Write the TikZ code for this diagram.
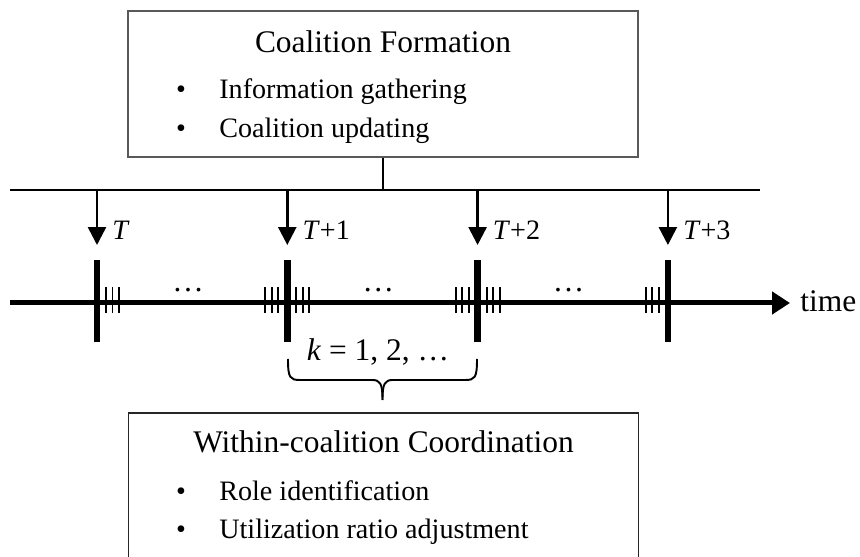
\documentclass[tikz,border=0pt]{standalone}
\usepackage{fontspec}
\setmainfont{Liberation Serif}
\usetikzlibrary{arrows.meta}
\tikzset{
  ttl/.style={font=\fontsize{17.9}{21}\selectfont,anchor=base,inner sep=0pt},
  itm/.style={font=\fontsize{16}{19}\selectfont,anchor=base west,inner sep=0pt},
  bul/.style={font=\fontsize{16}{19}\selectfont,anchor=base,inner sep=0pt},
  cbox/.style={draw=black!65,line width=0.75pt,minimum width=10.2cm,minimum height=2.92cm,inner sep=0pt},
  down/.style={line width=1.5pt,-{Triangle[length=0.36cm,width=0.36cm]}},
  bigtick/.style={line width=0.13cm},
  smalltick/.style={line width=1.1pt},
  brc/.style={line width=1.1pt}
}
\begin{document}
\begin{tikzpicture}[x=0.02cm,y=-0.02cm]
\useasboundingbox (0,0) rectangle (860,557);

\node [cbox] (form) at (383,84) {};
\node [ttl] (formttl) at (383,53) {Coalition Formation};
\node [bul] (fb1) at (181,99) {•};
\node [itm] (fi1) at (219,99) {Information gathering};
\node [bul] (fb2) at (181,138) {•};
\node [itm] (fi2) at (219,138) {Coalition updating};

\node [cbox,draw=black!85] (coord) at (383.5,486) {};
\node [ttl] (coordttl) at (383.5,453) {Within-coalition Coordination};
\node [bul] (cb1) at (181,501) {•};
\node [itm] (ci1) at (219,501) {Role identification};
\node [bul] (cb2) at (181,539) {•};
\node [itm] (ci2) at (219,539) {Utilization ratio adjustment};

\coordinate (hl) at (10,190);
\coordinate (hr) at (760,190);
\draw [line width=1.1pt] (hl) -- (hr);
\draw [line width=1.1pt] (form.south) -- (form.south |- hl);

\coordinate (tl) at (10,303);
\coordinate (tr) at (790,303);
\node [ttl,anchor=base west] (time) at (800,312) {time};
\draw [line width=0.1cm,-{Triangle[length=0.36cm,width=0.44cm]}] (tl) -- (tr);

\foreach \i/\lab in {0/{},1/{+1},2/{+2},3/{+3}} {
  \coordinate (a\i) at (97+190.3*\i,190);
  \coordinate (b\i) at (97+190.3*\i,245);
  \draw [down] (a\i) -- (b\i);
  \node [itm] (lab\i) at (112+190.3*\i,240) {\textit{T}\lab};
  \coordinate (tk\i) at (97+190.3*\i,303);
  \draw [bigtick] ([yshift=0.86cm]tk\i) -- ([yshift=-0.78cm]tk\i);
}
\foreach \d in {9,15.5,22} {
  \foreach \i in {0,1,2} \draw [smalltick] ([xshift=\d*0.02cm,yshift=0.32cm]tk\i) -- ([xshift=\d*0.02cm,yshift=-0.2cm]tk\i);
  \foreach \i in {1,2,3} \draw [smalltick] ([xshift=-\d*0.02cm,yshift=0.32cm]tk\i) -- ([xshift=-\d*0.02cm,yshift=-0.2cm]tk\i);
}
\foreach \i in {0,1,2}
  \node [ttl] (dots\i) at (188+190.3*\i,292) {…};

\coordinate (bl) at (288,359);
\coordinate (br) at (477,359);
\coordinate (bt) at (382.5,400);
\draw [brc] (bl) .. controls (288,378) and (290,380) .. (300,380) -- (372,380) .. controls (380,380) and (382.5,383) .. (bt);
\draw [brc] (br) .. controls (477,378) and (475,380) .. (465,380) -- (393,380) .. controls (385,380) and (382.5,383) .. (bt);
\node [ttl] (kval) at (378,361) {\textit{k} = 1, 2, …};
\end{tikzpicture}
\end{document}
